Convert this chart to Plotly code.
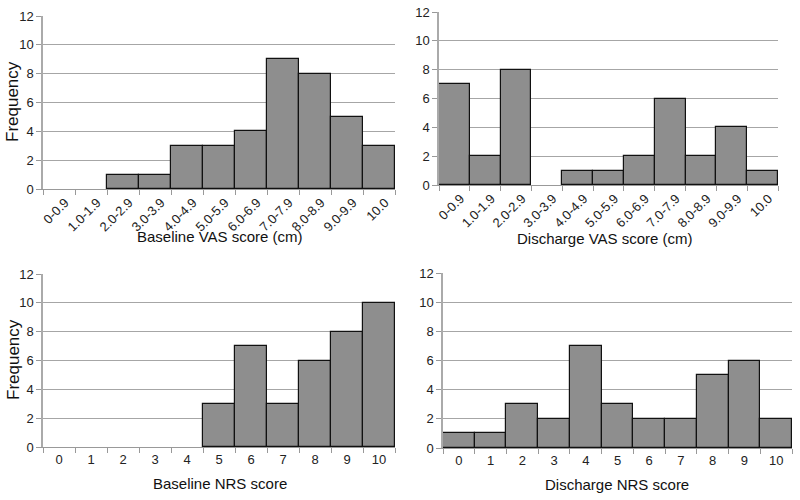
import plotly.graph_objects as go

vas_cats = ["0-0.9", "1.0-1.9", "2.0-2.9", "3.0-3.9", "4.0-4.9", "5.0-5.9",
            "6.0-6.9", "7.0-7.9", "8.0-8.9", "9.0-9.9", "10.0"]
nrs_cats = ["0", "1", "2", "3", "4", "5", "6", "7", "8", "9", "10"]

baseline_vas = [0, 0, 1, 1, 3, 3, 4, 9, 8, 5, 3]
discharge_vas = [7, 2, 8, 0, 1, 1, 2, 6, 2, 4, 1]
baseline_nrs = [0, 0, 0, 0, 0, 3, 7, 3, 6, 8, 10]
discharge_nrs = [1, 1, 3, 2, 7, 3, 2, 2, 5, 6, 2]

titles = ["Baseline VAS score (cm)", "Discharge VAS score (cm)",
          "Baseline NRS score", "Discharge NRS score"]
y_ticks = [0, 2, 4, 6, 8, 10, 12]

W, H = 800, 500
panels = [
    # (cats, values, x0, x1, ytop, ybottom, tickangle, labelshift, title_x, title_y)
    (vas_cats, baseline_vas, 43, 395, 16, 189, -45, 6, 220, 236),
    (vas_cats, discharge_vas, 439, 778, 12, 185, -45, 6, 605, 238),
    (nrs_cats, baseline_nrs, 43, 395, 274, 447, 0, 0, 220, 483),
    (nrs_cats, discharge_nrs, 443, 792, 273, 448, 0, 0, 617, 484),
]

fig = go.Figure()
font = "Liberation Sans, Arial, sans-serif"
annotations = []
for i, (cats, vals, x0, x1, yt, yb, ang, shift, tx, ty) in enumerate(panels):
    n = i + 1
    xa = "x" if n == 1 else f"x{n}"
    ya = "y" if n == 1 else f"y{n}"
    fig.add_trace(go.Bar(
        x=cats, y=vals, xaxis=xa, yaxis=ya,
        marker=dict(color="#8e8e8e",
                    line=dict(color="#111111",
                              width=[1.2 if v > 0 else 0 for v in vals])),
        showlegend=False, hoverinfo="x+y",
    ))
    xkey = "xaxis" if n == 1 else f"xaxis{n}"
    ykey = "yaxis" if n == 1 else f"yaxis{n}"
    fig.layout[xkey] = dict(
        domain=[x0 / W, x1 / W], anchor=ya, type="category",
        tickson="boundaries", ticks="outside", ticklen=5, tickcolor="#999999",
        showline=True, linecolor="#999999", linewidth=1,
        tickangle=ang, ticklabelshift=shift,
        tickfont=dict(family=font, size=13, color="#222222"),
        showgrid=False, range=[-0.5, 10.5], fixedrange=True, automargin=False,
    )
    fig.layout[ykey] = dict(
        domain=[1 - yb / H, 1 - yt / H], anchor=xa,
        range=[0, 12], tickvals=y_ticks,
        ticks="outside", ticklen=5, tickcolor="#999999",
        showline=True, linecolor="#aaaaaa", linewidth=1.5,
        showgrid=True, gridcolor="#a6a6a6", gridwidth=1,
        zeroline=False, automargin=False, fixedrange=True,
        tickfont=dict(family=font, size=13, color="#222222"),
    )
    annotations.append(dict(
        text=titles[i], x=tx / W, y=1 - ty / H, xref="paper", yref="paper",
        showarrow=False, xanchor="center", yanchor="middle",
        font=dict(family=font, size=15, color="#111111"),
    ))

for fy in (102, 360):
    annotations.append(dict(
        text="Frequency", x=13 / W, y=1 - fy / H, xref="paper", yref="paper",
        showarrow=False, textangle=-90, xanchor="center", yanchor="middle",
        font=dict(family=font, size=17, color="#111111"),
    ))

fig.update_layout(
    width=W, height=H, margin=dict(l=0, r=0, t=0, b=0, autoexpand=False),
    paper_bgcolor="white", plot_bgcolor="white",
    bargap=0, annotations=annotations,
)
fig.write_html("out.html", config={"displayModeBar": False},
               post_script="document.body.style.margin='0';"
                           "document.body.style.overflow='hidden';")
